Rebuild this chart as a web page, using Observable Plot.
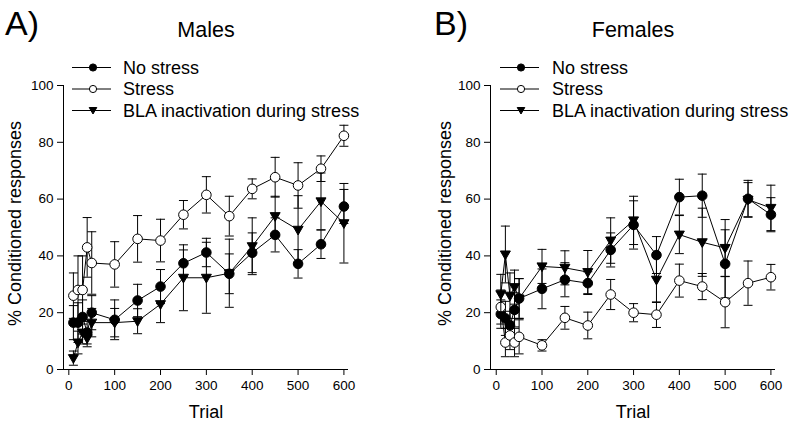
<!DOCTYPE html>
<html><head><meta charset="utf-8">
<script src="https://cdn.jsdelivr.net/npm/d3@7"></script>
<script src="https://cdn.jsdelivr.net/npm/@observablehq/plot@0.6"></script>
<style>
body{margin:0;background:#fff;font-family:"Liberation Sans",Arial,sans-serif;}
#root{position:relative;width:800px;height:426px;overflow:hidden;background:#fff;}
.panel{position:absolute;top:0;}
#overlay{position:absolute;left:0;top:0;pointer-events:none;}
</style></head><body><div id="root"></div>
<script>
// ---- data ----
const trials = [10,20,30,40,50,100,150,200,250,300,350,400,450,500,550,600];
const seriesNames = ["No stress","Stress","BLA inactivation during stress"];
const xTicks = [0,100,200,300,400,500,600];
const yTicks = [0,20,40,60,80,100];
const panelTitles = ["Males","Females"];
const panelLetters = ["A)","B)"];
const xLabel = "Trial";
const yLabel = "% Conditioned responses";
const malesXDomain = [-11.6, 610];
const femalesXDomain = [-12.5, 610];

const malesNoStress    = [16.5,16.5,18.5,13,20,17.5,24.3,29.2,37.4,41.2,33.7,41.1,47.4,37.2,44.1,57.4];
const malesNoStressErr = [6,7,6,4,6,7,5.7,6,4.7,5,7,7,6,5,5,6];
const malesStress      = [26,28,28,43,37.5,37,46,45.4,54.5,61.5,54,63.6,67.7,64.8,70.7,82.3];
const malesStressErr   = [8,12,12,10.5,11,8,8.2,7.5,5,6.4,7,3.5,7,8,4.5,3.7];
const malesBla         = [4,9.5,13,11,16.5,16.5,17,23,32.3,32.3,33.9,43.4,54,49.2,59.2,51.5];
const malesBlaErr      = [2.5,4,4,3,5,5,4.4,6.5,11.6,12.5,12,10,7,12,10,14];

const femalesNoStress    = [19.5,18,15.5,21,25,28.4,31.6,30.4,42.1,50.9,40.3,60.7,61.2,37.2,60.1,54.5];
const femalesNoStressErr = [5,6,5,6,7,7,6,4,6,8.5,6.5,6.3,7.6,12,6.5,6];
const femalesStress      = [22,9.5,12,9.5,11.5,8.5,18.2,15.5,26.4,20,19.3,31.3,29.2,23.7,30.4,32.5];
const femalesStressErr   = [6,5,5,5,6,2,4,4.7,5.3,3.2,4.5,5.8,4.6,9,7.8,4.5];
const femalesBla         = [26.5,40.5,26,29,25,36.3,35.8,34.3,45.4,52.5,31.6,47.5,44.8,42.8,59.8,56.9];
const femalesBlaErr      = [7,10,8,6,7,6,6,7.6,8,8.5,8,6.7,12,10,6,8];

// ---- helpers ----
const FONT = '"Liberation Sans", Arial, sans-serif';
function rows(means, errs, series){
  return trials.map((t,i)=>({trial:t, value:means[i], err:errs[i], series}));
}
const capSymbol = {draw(ctx){ ctx.moveTo(-4.5,0); ctx.lineTo(4.5,0); }};
const triDown = {draw(ctx){ ctx.moveTo(-5,-3.5); ctx.lineTo(5,-3.5); ctx.lineTo(0,5.2); ctx.closePath(); }};

function seriesMarks(data, kind){
  const m = [
    Plot.ruleX(data,{x:"trial", y1:d=>d.value-d.err, y2:d=>d.value+d.err, stroke:"black", strokeWidth:1}),
    Plot.dot(data,{x:"trial", y:d=>d.value-d.err, symbol:capSymbol, stroke:"black", fill:"none", strokeWidth:1}),
    Plot.dot(data,{x:"trial", y:d=>d.value+d.err, symbol:capSymbol, stroke:"black", fill:"none", strokeWidth:1}),
    Plot.line(data,{x:"trial", y:"value", stroke:"black", strokeWidth:1})
  ];
  if (kind==="filled") m.push(Plot.dot(data,{x:"trial", y:"value", r:4.8, fill:"black", stroke:"black", strokeWidth:1}));
  if (kind==="open") m.push(Plot.dot(data,{x:"trial", y:"value", r:4.8, fill:"white", stroke:"black", strokeWidth:1}));
  if (kind==="tri") m.push(Plot.dot(data,{x:"trial", y:"value", symbol:triDown, fill:"black", stroke:"black", strokeWidth:1}));
  return m;
}

function panel(noS, noSE, st, stE, bla, blaE, xDomain, ml, mr, yLabelDx){
  return Plot.plot({
    width:400, height:426,
    marginLeft:ml, marginRight:mr, marginTop:85, marginBottom:57,
    style:{fontFamily:FONT, fontSize:"13.5px", color:"black", background:"transparent"},
    x:{domain:xDomain, ticks:xTicks, tickSize:6, tickPadding:5, label:null, tickFormat:d=>String(d)},
    y:{domain:[0,100], ticks:yTicks, tickSize:6, tickPadding:4, label:null, tickFormat:d=>String(d)},
    marks:[
      Plot.ruleY([0],{stroke:"black"}),
      Plot.ruleX([xDomain[0]],{stroke:"black"}),
      ...seriesMarks(rows(noS,noSE,seriesNames[0]),"filled"),
      ...seriesMarks(rows(st,stE,seriesNames[1]),"open"),
      ...seriesMarks(rows(bla,blaE,seriesNames[2]),"tri"),
      Plot.text([xLabel],{frameAnchor:"bottom", dy:42.5, fontSize:18, lineAnchor:"middle", textAnchor:"middle", fill:"black"}),
      Plot.text([yLabel],{frameAnchor:"left", dx:yLabelDx, dy:-4, rotate:-90, fontSize:18, lineAnchor:"middle", textAnchor:"middle", fill:"black"})
    ]
  });
}

const root = document.getElementById("root");
const left = panel(malesNoStress,malesNoStressErr,malesStress,malesStressErr,malesBla,malesBlaErr,malesXDomain,63,52,-48);
left.classList.add("panel"); left.style.left="0px";
const right = panel(femalesNoStress,femalesNoStressErr,femalesStress,femalesStressErr,femalesBla,femalesBlaErr,femalesXDomain,90,25,-45);
right.classList.add("panel"); right.style.left="400px";
root.appendChild(left); root.appendChild(right);

// ---- titles & legends overlay ----
const ns="http://www.w3.org/2000/svg";
const ov=document.createElementNS(ns,"svg");
ov.setAttribute("id","overlay"); ov.setAttribute("width",800); ov.setAttribute("height",426);
ov.style.fontFamily=FONT;
function txt(x,y,s,size,anchor){
  const t=document.createElementNS(ns,"text");
  t.setAttribute("x",x); t.setAttribute("y",y); t.setAttribute("font-size",size);
  t.setAttribute("text-anchor",anchor||"start"); t.setAttribute("fill","black");
  t.textContent=s; ov.appendChild(t);
}
function el(tag,attrs){const e=document.createElementNS(ns,tag);for(const k in attrs)e.setAttribute(k,attrs[k]);ov.appendChild(e);return e;}
const panelsX=[{letter:5,title:206,l0:72,l1:111,mk:93,tx:123},{letter:434,title:633,l0:500,l1:539,mk:521,tx:552}];
panelsX.forEach((p,i)=>{
  txt(p.letter,35,panelLetters[i],34,"start");
  txt(p.title,37,panelTitles[i],21.5,"middle");
  const rowsY=[67,88.5,110];
  seriesNames.forEach((s,j)=>{
    const y=rowsY[j];
    el("line",{x1:p.l0,x2:p.l1,y1:y+0.5,y2:y+0.5,stroke:"black","stroke-width":1});
    if(j===0) el("circle",{cx:p.mk,cy:y+0.5,r:3.6,fill:"black",stroke:"black"});
    if(j===1) el("circle",{cx:p.mk,cy:y+0.5,r:3.6,fill:"white",stroke:"black"});
    if(j===2) el("path",{d:`M${p.mk-3.8},${y-2.5}L${p.mk+3.8},${y-2.5}L${p.mk},${y+4}Z`,fill:"black",stroke:"black"});
    txt(p.tx,y+6.5,s,18,"start");
  });
});
root.appendChild(ov);
</script>
</body></html>
